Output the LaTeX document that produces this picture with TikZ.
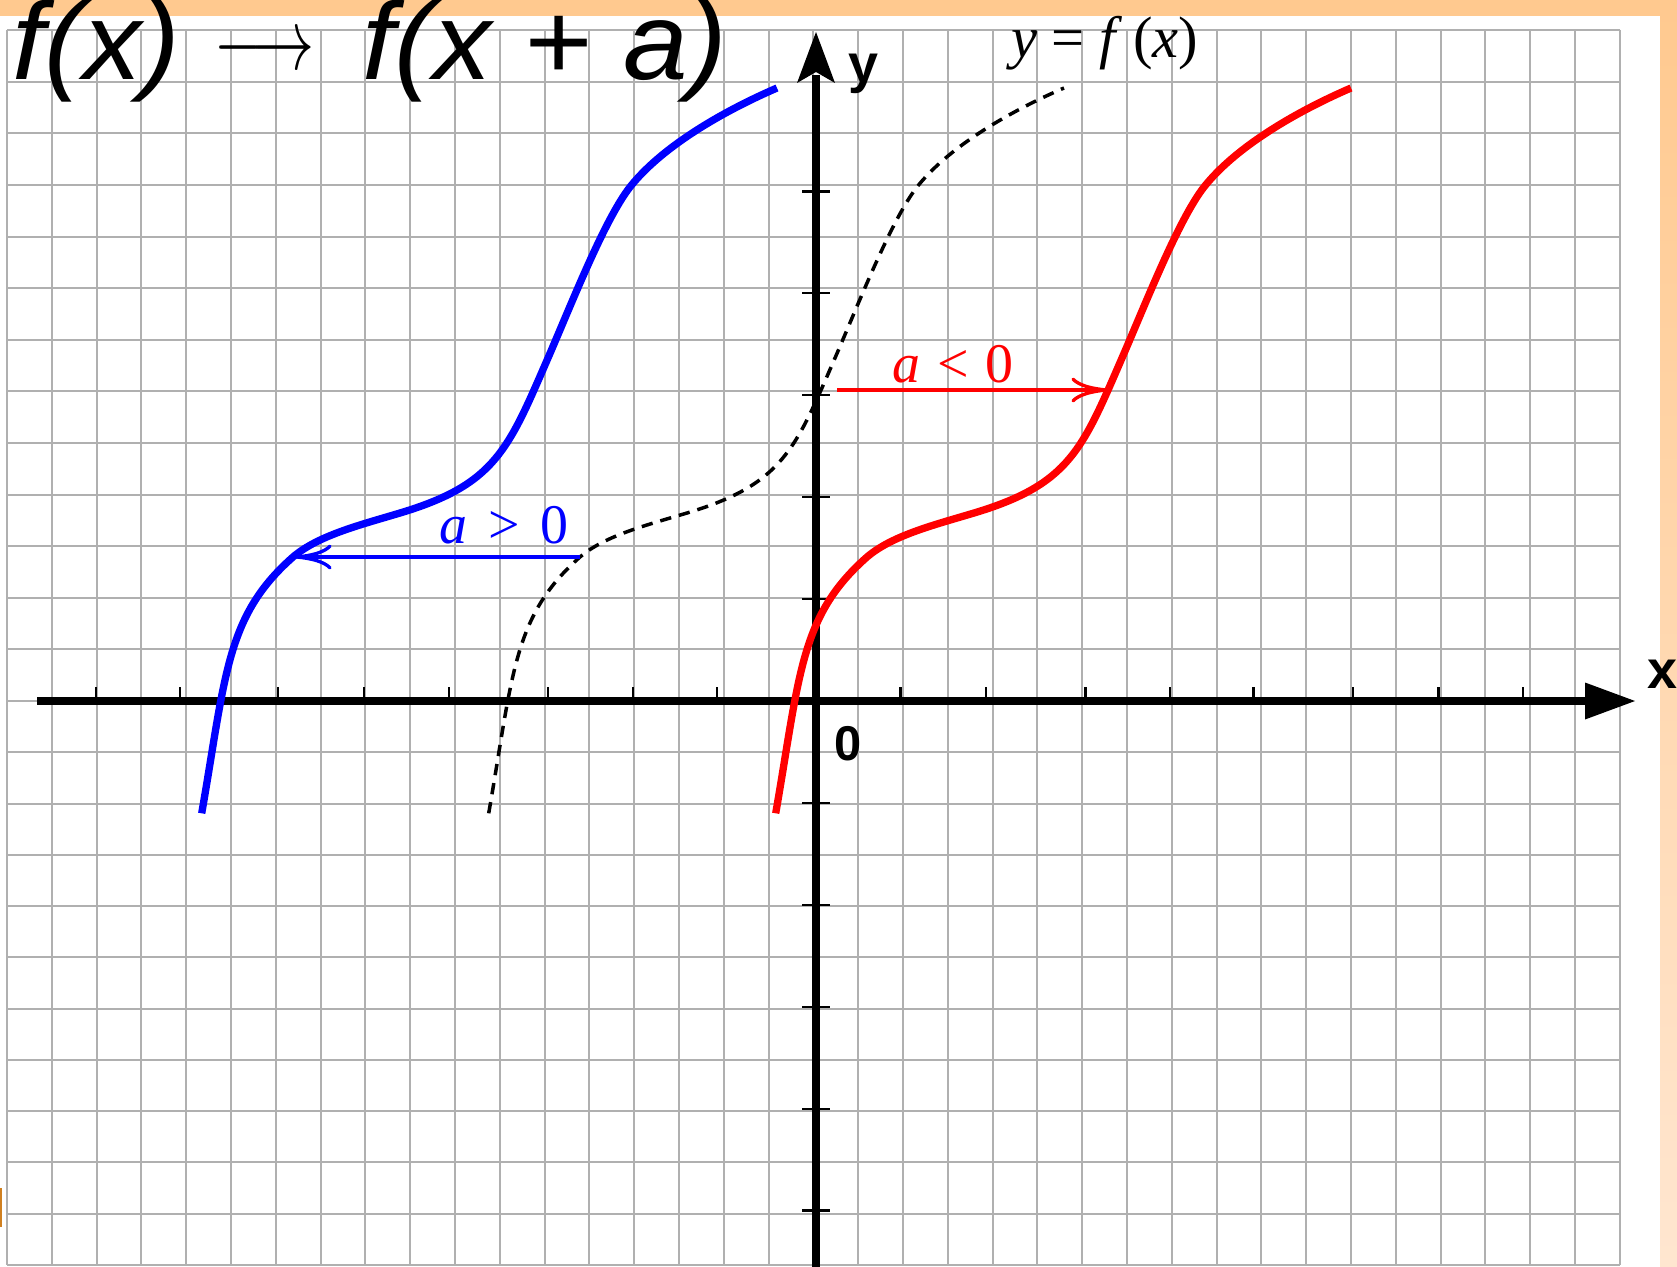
\documentclass[tikz,border=0pt]{standalone}
\usepackage{fontspec}
\setmainfont{Liberation Serif}
\setsansfont{Liberation Sans}
\usetikzlibrary{arrows.meta}
\definecolor{bandtop}{HTML}{FFC98F}
\definecolor{bandbot}{HTML}{FFE6D0}
\definecolor{bandedge}{HTML}{D08020}
\definecolor{gridc}{HTML}{B0B0B0}
\tikzset{
  gridline/.style={draw=gridc, line width=0.6mm},
  axisline/.style={draw=black, line width=2.25mm},
  tickline/.style={draw=black, line width=0.7mm},
  fcurve/.style={line width=2.2mm},
  dashcurve/.style={draw=black, line width=1.05mm, dash pattern=on 3.4mm off 2.4mm},
  shiftarrow/.style={line width=1mm, -{Computer Modern Rightarrow[length=11mm,width=7.5mm]}},
  titletxt/.style={inner sep=0pt, font=\fontsize{93.5pt}{100pt}\selectfont\sffamily\itshape},
  axlbl/.style={inner sep=0pt, font=\fontsize{46pt}{50pt}\selectfont\sffamily\bfseries},
  zerolbl/.style={inner sep=0pt, font=\fontsize{41.7pt}{45pt}\selectfont\sffamily\bfseries},
  mathlbl/.style={inner sep=0pt, font=\fontsize{47.7pt}{50pt}\selectfont\rmfamily},
  fnlbl/.style={inner sep=0pt, font=\fontsize{50pt}{54pt}\selectfont\rmfamily},
  fpath/.style={insert path={(201.7,813.3) .. controls (226,674) and (226,616) .. (293,557)
    .. controls (318,535.5) and (360,525) .. (400,513)
    .. controls (495.75,484.3) and (508.25,449.4) .. (548,358)
    .. controls (571,305) and (604.3,219.9) .. (630,187)
    .. controls (660,149) and (717,114) .. (777,88)}}
}
\begin{document}
\begin{tikzpicture}[x=0.3mm,y=-0.3mm]
\useasboundingbox (0,0) rectangle (1677,1267);
\fill[white] (0,0) rectangle (1677,1267);
\fill[bandtop] (0,0) rectangle (1677,16);
\shade[top color=bandtop,bottom color=bandbot] (1660,0) rectangle (1677,1267);
\fill[bandedge] (0,1188) rectangle (1.5,1227);
% grid
\foreach \i in {0,...,36} \draw[gridline] (7+\i*44.8,30) -- (7+\i*44.8,1265);
\foreach \j in {0,...,13} \draw[gridline] (7,701-\j*51.6) -- (1620,701-\j*51.6);
\foreach \j in {1,...,11} \draw[gridline] (7,701+\j*51.27) -- (1620,701+\j*51.27);
% axes
\coordinate (xs) at (37,701);
\coordinate (xe) at (1590,701);
\draw[axisline] (xs) -- (xe);
\fill (1635,701) -- (1585,682.5) -- (1585,719.5) -- cycle;
\coordinate (ys) at (816,1267);
\coordinate (ye) at (816,75);
\draw[axisline] (ys) -- (ye);
\fill (816,32) -- (835,83) -- (816,72) -- (797,83) -- cycle;
% ticks
\foreach \t in {96,180,278,364,449,548,633,717,900.5,986,1085.6,1170,1253.4,1353,1438.5,1523}
  \draw[tickline] (\t,701) -- (\t,687);
\foreach \t in {191.5,293,395,497,599,803,905,1007,1109,1210.5}
  \draw[tickline] (802,\t) -- (830,\t);
% curves
\draw[fcurve, blue] [fpath];
\draw[dashcurve, shift={(287,0)}] [fpath];
\draw[fcurve, red, shift={(574,0)}] [fpath];
% shift arrows
\coordinate (bA) at (580,557);
\coordinate (bB) at (295,557);
\draw[shiftarrow, blue] (bA) -- (bB);
\coordinate (rA) at (837,390);
\coordinate (rB) at (1108,390);
\draw[shiftarrow, red] (rA) -- (rB);
% labels
\node[mathlbl, blue, anchor=base] (ag) at (504,543) {\textit{a}\hspace{.38em}>\hspace{.38em}0};
\node[mathlbl, red, anchor=base] (al) at (953,382) {\textit{a}\hspace{.3em}<\hspace{.3em}0};
\node[titletxt, anchor=base west] (t1) at (12,80) {\scalebox{1.06}[1]{f(x)}};
\node[inner sep=0pt, anchor=center] (tar) at (264.5,53) {\scalebox{5.3}[7.5]{$\longrightarrow$}};
\node[titletxt, anchor=base west] (t2) at (362,80) {\scalebox{1.06}[1]{f(x + a)}};
\node[axlbl, anchor=base west] (xl) at (1647,688) {x};
\node[axlbl, anchor=base west] (yl) at (848,82) {y};
\node[zerolbl, anchor=base west] (zl) at (834,760) {0};
\node[fnlbl, anchor=base west] (fl) at (1011,58) {\textit{y}\hspace{.25em}=\hspace{.25em}\textit{f}\hspace{.18em}(\textit{x})};
\end{tikzpicture}
\end{document}
